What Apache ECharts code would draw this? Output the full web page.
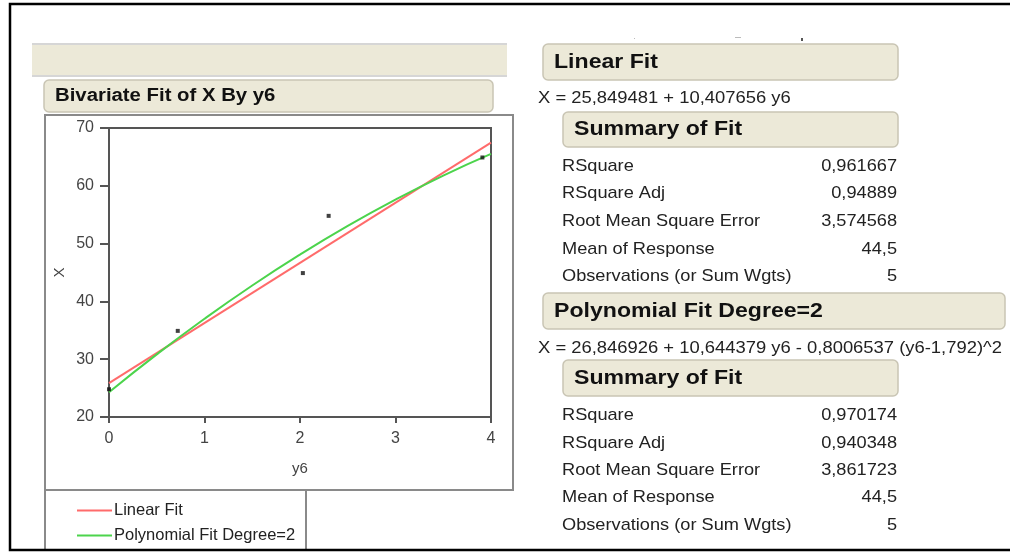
<!DOCTYPE html>
<html>
<head>
<meta charset="utf-8">
<script src="https://cdn.jsdelivr.net/npm/echarts@6/dist/echarts.min.js"></script>
<style>
html,body{margin:0;padding:0;background:#fff;}
#c{width:1010px;height:552px;}
</style>
</head>
<body>
<div id="c"></div>
<script>
// ---- data ----
var obsY6 = [0, 0.72, 2.03, 2.3, 3.91];
var obsX = [24.8, 34.9, 44.9, 54.8, 64.9];
var linX = [0, 4];
var linY = [25.85, 67.48];
var polyX = [0, 0.5, 1, 1.5, 2, 2.5, 3, 3.5, 4];
var polyY = [24.28, 30.83, 36.99, 42.75, 48.10, 53.06, 57.61, 61.77, 65.52];
var xTicks = [0, 1, 2, 3, 4];
var yTicks = [20, 30, 40, 50, 60, 70];
var seriesNames = ['Linear Fit', 'Polynomial Fit Degree=2'];
var statLabels = ['RSquare', 'RSquare Adj', 'Root Mean Square Error', 'Mean of Response', 'Observations (or Sum Wgts)'];
var linStats = ['0,961667', '0,94889', '3,574568', '44,5', '5'];
var polyStats = ['0,970174', '0,940348', '3,861723', '44,5', '5'];
var linEq = 'X = 25,849481 + 10,407656 y6';
var polyEq = 'X = 26,846926 + 10,644379 y6 - 0,8006537 (y6-1,792)^2';

function zip(a, b) { return a.map(function (v, i) { return [v, b[i]]; }); }

var FONT = '"Liberation Sans", Arial, sans-serif';
var BEIGE = '#ECE9D8';
var BEIGE_STROKE = '#C9C5B4';

function header(x, y, w, h, text, size, sx) {
  return [
    { type: 'rect', shape: { x: x, y: y, width: w, height: h, r: 5 },
      style: { fill: BEIGE, stroke: BEIGE_STROKE, lineWidth: 1.5 }, z: 1 },
    { type: 'text', x: x + 11, y: y + h / 2, z: 2, scaleX: sx,
      style: { text: text, font: 'bold ' + size + 'px ' + FONT, fill: '#111', textVerticalAlign: 'middle', textAlign: 'left' } }
  ];
}
function plain(x, y, text, size, align, sx) {
  return { type: 'text', x: x, y: y, z: 2, scaleX: sx || 1,
    style: { text: text, font: size + 'px ' + FONT, fill: '#222', textVerticalAlign: 'middle', textAlign: align || 'left' } };
}
function statRows(ys, vals) {
  var out = [];
  statLabels.forEach(function (l, i) {
    out.push(plain(562, ys[i], l, 17, 'left', 1.07));
    out.push(plain(897, ys[i], vals[i], 17, 'right', 1.07));
  });
  return out;
}

var g = [];
// outer frame
g.push({ type: 'rect', shape: { x: 10, y: 4, width: 1010, height: 546 }, style: { fill: 'none', stroke: '#000', lineWidth: 2.5 }, z: 5 });
// top beige band
g.push({ type: 'rect', shape: { x: 32, y: 44, width: 475, height: 32 }, style: { fill: BEIGE, stroke: 'none' }, z: 1 });
g.push({ type: 'line', shape: { x1: 32, y1: 44, x2: 507, y2: 44 }, style: { stroke: '#D6D6D6', lineWidth: 2 }, z: 1 });
g.push({ type: 'line', shape: { x1: 32, y1: 76, x2: 507, y2: 76 }, style: { stroke: '#D6D6D6', lineWidth: 2 }, z: 1 });
// small marks top
g.push({ type: 'rect', shape: { x: 801, y: 38, width: 2, height: 3 }, style: { fill: '#555' } });
g.push({ type: 'rect', shape: { x: 735, y: 37, width: 6, height: 1 }, style: { fill: '#bbb' } });
g.push({ type: 'rect', shape: { x: 634, y: 38, width: 1, height: 1 }, style: { fill: '#bbb' } });
// bivariate header
g = g.concat(header(44, 80, 449, 32, 'Bivariate Fit of X By y6', 18, 1.13));
// plot frame
g.push({ type: 'rect', shape: { x: 45, y: 115, width: 468, height: 375 }, style: { fill: 'none', stroke: '#8a8a8a', lineWidth: 2 }, z: 1 });
g.push({ type: 'line', shape: { x1: 45, y1: 490, x2: 45, y2: 549 }, style: { stroke: '#8a8a8a', lineWidth: 2 }, z: 1 });
g.push({ type: 'line', shape: { x1: 306, y1: 490, x2: 306, y2: 549 }, style: { stroke: '#8a8a8a', lineWidth: 2 }, z: 1 });
// right panels
g = g.concat(header(543, 44, 355, 36, 'Linear Fit', 21, 1.1));
g.push(plain(538, 99, linEq, 16, 'left', 1.15));
g = g.concat(header(563, 112, 335, 35, 'Summary of Fit', 21, 1.1));
g = g.concat(statRows([166, 193, 221, 249, 276], linStats));
g = g.concat(header(543, 293, 462, 36, 'Polynomial Fit Degree=2', 21, 1.1));
g.push(plain(538, 349, polyEq, 16, 'left', 1.15));
g = g.concat(header(563, 360, 335, 36, 'Summary of Fit', 21, 1.1));
g = g.concat(statRows([415, 443, 470, 497, 525], polyStats));

var chart = echarts.init(document.getElementById('c'), null, { renderer: 'canvas' });
chart.setOption({
  animation: false,
  backgroundColor: '#fff',
  textStyle: { fontFamily: FONT },
  grid: { left: 109, top: 128, width: 382, height: 289, show: true, borderColor: '#555', borderWidth: 2, backgroundColor: 'transparent' },
  legend: {
    orient: 'vertical', left: 77, top: 502, itemWidth: 35, itemHeight: 2, itemGap: 8,
    icon: 'rect', data: seriesNames, padding: 0,
    textStyle: { fontSize: 16.5, lineHeight: 16, color: '#222', fontFamily: FONT, padding: [0, 0, 0, -3] }
  },
  xAxis: {
    type: 'value', min: xTicks[0], max: xTicks[xTicks.length - 1], interval: 1,
    name: 'y6', nameLocation: 'middle', nameGap: 44,
    nameTextStyle: { fontSize: 15, color: '#444' },
    axisLine: { show: true, lineStyle: { color: '#555', width: 2 } },
    axisTick: { show: true, length: 6, lineStyle: { color: '#555', width: 2 } },
    axisLabel: { fontSize: 16, color: '#444', margin: 14 },
    splitLine: { show: false }
  },
  yAxis: {
    type: 'value', min: yTicks[0], max: yTicks[yTicks.length - 1], interval: 10,
    name: 'X', nameLocation: 'middle', nameGap: 42, nameRotate: 90,
    nameTextStyle: { fontSize: 15, color: '#444' },
    axisLine: { show: true, lineStyle: { color: '#555', width: 2 } },
    axisTick: { show: true, length: 9, lineStyle: { color: '#555', width: 2 } },
    axisLabel: { fontSize: 16, color: '#444', margin: 15 },
    splitLine: { show: false }
  },
  series: [
    { name: seriesNames[0], type: 'line', data: zip(linX, linY), symbol: 'none',
      lineStyle: { color: '#FF6B6B', width: 2 }, itemStyle: { color: '#FF6B6B' }, z: 3 },
    { name: seriesNames[1], type: 'line', data: zip(polyX, polyY), symbol: 'none', smooth: true,
      lineStyle: { color: '#4CD44C', width: 2 }, itemStyle: { color: '#4CD44C' }, z: 4 },
    { name: 'obs', type: 'scatter', data: zip(obsY6, obsX), symbol: 'rect', symbolSize: 4,
      itemStyle: { color: '#111' }, z: 5 }
  ],
  graphic: g
});
</script>
</body>
</html>
